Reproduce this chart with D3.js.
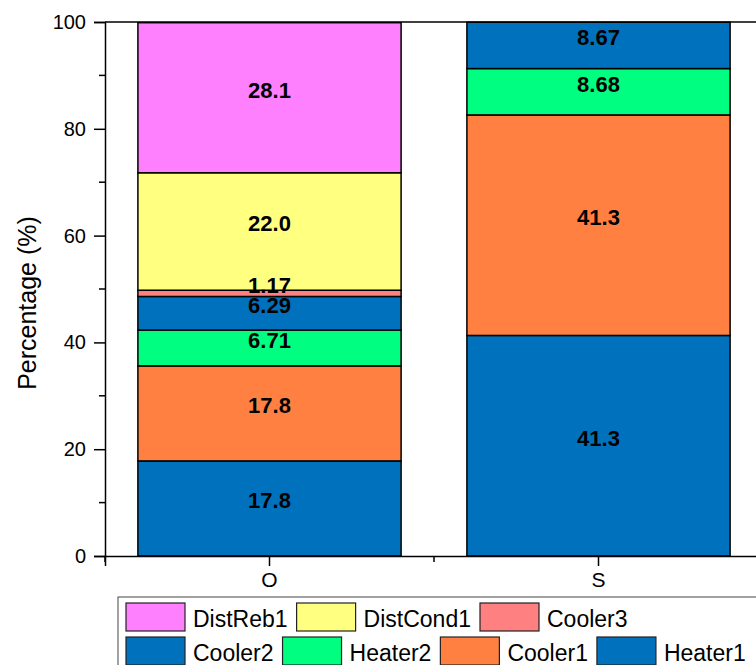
<!DOCTYPE html>
<html>
<head>
<meta charset="utf-8">
<script src="https://cdn.jsdelivr.net/npm/d3@7"></script>
<style>
body { margin: 0; background: #fff; }
text { font-family: Arial, "Liberation Sans", sans-serif; }
</style>
</head>
<body>
<div id="chart"></div>
<script>
var categories = ["O", "S"];
var seriesNames = ["Heater1", "Cooler1", "Heater2", "Cooler2", "Cooler3", "DistCond1", "DistReb1"];
var seriesColors = ["#0072BD", "#FF8040", "#00FF80", "#0072BD", "#FF8080", "#FFFF80", "#FF80FF"];
var valuesO = [17.8, 17.8, 6.71, 6.29, 1.17, 22.0, 28.1];
var valuesS = [41.3, 41.3, 8.68, 8.67, 0, 0, 0];
var labelsO = ["17.8", "17.8", "6.71", "6.29", "1.17", "22.0", "28.1"];
var labelsS = ["41.3", "41.3", "8.68", "8.67", "", "", ""];
var legendRows = [["DistReb1", "DistCond1", "Cooler3"], ["Cooler2", "Heater2", "Cooler1", "Heater1"]];
var yTicks = [0, 20, 40, 60, 80, 100];
var yMinor = [10, 30, 50, 70, 90];

var W = 756, H = 665;
var svg = d3.select("#chart").append("svg")
    .attr("width", W).attr("height", H);

var x = d3.scaleBand()
    .domain(categories)
    .range([105, 763])
    .paddingInner(0.2)
    .paddingOuter(0.1);

var y = d3.scaleLinear()
    .domain([0, 100])
    .range([556, 22]);

// build stacked data
var table = categories.map(function(c, ci) {
    var row = {cat: c};
    var vals = ci == 0 ? valuesO : valuesS;
    seriesNames.forEach(function(s, i) { row[s] = vals[i]; });
    return row;
});
var stacked = d3.stack().keys(seriesNames)(table);

stacked.forEach(function(layer, li) {
    layer.forEach(function(d, ci) {
        if (d[1] - d[0] <= 0) return;
        svg.append("rect")
            .attr("x", x(categories[ci]))
            .attr("y", y(d[1]))
            .attr("width", x.bandwidth())
            .attr("height", y(d[0]) - y(d[1]))
            .attr("fill", seriesColors[li])
            .attr("stroke", "#000")
            .attr("stroke-width", 1.5);
    });
});

stacked.forEach(function(layer, li) {
    layer.forEach(function(d, ci) {
        var lab = ci == 0 ? labelsO[li] : labelsS[li];
        if (!lab) return;
        svg.append("text")
            .attr("x", x(categories[ci]) + x.bandwidth() / 2)
            .attr("y", y((d[0] + d[1]) / 2))
            .attr("text-anchor", "middle")
            .attr("font-size", 22)
            .attr("font-weight", "bold")
            .text(lab);
    });
});

// frame
svg.append("line").attr("x1", 105).attr("x2", 763).attr("y1", 22).attr("y2", 22)
    .attr("stroke", "#000").attr("stroke-width", 1.5);

// y axis
var yAxis = svg.append("g")
    .attr("transform", "translate(105,0)")
    .call(d3.axisLeft(y).tickValues(yTicks).tickSize(11).tickPadding(8));
yAxis.select(".domain").attr("stroke-width", 1.5);
yAxis.selectAll(".tick line").attr("stroke-width", 1.5);
yAxis.selectAll(".tick text").attr("font-size", 20).attr("font-family", "Arial, 'Liberation Sans', sans-serif");
svg.append("g")
    .attr("transform", "translate(105,0)")
    .selectAll("line")
    .data(yMinor)
    .enter().append("line")
    .attr("x1", -6).attr("x2", 0)
    .attr("y1", function(d) { return y(d); })
    .attr("y2", function(d) { return y(d); })
    .attr("stroke", "#000").attr("stroke-width", 1.5);

// x axis
var xAxis = svg.append("g")
    .attr("transform", "translate(0,556)")
    .call(d3.axisBottom(x).tickSize(10).tickPadding(6));
xAxis.select(".domain").attr("stroke-width", 1.5);
xAxis.selectAll(".tick line").attr("stroke-width", 1.5);
xAxis.selectAll(".tick text").attr("font-size", 21).attr("font-family", "Arial, 'Liberation Sans', sans-serif");
var bounds = [x.range()[0], x.range()[0] + x.step(), x.range()[1]];
svg.append("g")
    .selectAll("line")
    .data(bounds)
    .enter().append("line")
    .attr("x1", function(d) { return d; })
    .attr("x2", function(d) { return d; })
    .attr("y1", 556).attr("y2", 562)
    .attr("stroke", "#000").attr("stroke-width", 1.5);

svg.append("text")
    .attr("transform", "translate(36,303) rotate(-90)")
    .attr("text-anchor", "middle")
    .attr("font-size", 25)
    .text("Percentage (%)");

// legend
var legend = svg.append("g");
legend.append("rect")
    .attr("x", 118).attr("y", 597)
    .attr("width", 700).attr("height", 100)
    .attr("fill", "#fff").attr("stroke", "#444").attr("stroke-width", 1);

legendRows.forEach(function(row, ri) {
    var lx = 126;
    var ly = 603 + ri * 34;
    row.forEach(function(name) {
        var color = seriesColors[seriesNames.indexOf(name)];
        legend.append("rect")
            .attr("x", lx).attr("y", ly)
            .attr("width", 59).attr("height", 28)
            .attr("fill", color)
            .attr("stroke", "#222").attr("stroke-width", 1.2);
        var t = legend.append("text")
            .attr("x", lx + 67).attr("y", ly + 24)
            .attr("font-size", 23)
            .text(name);
        lx = lx + 67 + t.node().getComputedTextLength() + 9;
    });
});
</script>
</body>
</html>
